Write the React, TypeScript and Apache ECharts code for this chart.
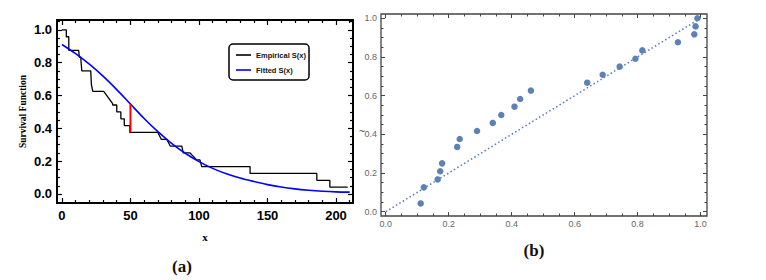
import React, { useEffect, useRef } from 'react';
import * as echarts from 'echarts';

// ---- Panel (a): empirical vs fitted survival function ----
const empX = [0, 3.2, 3.2, 5, 5, 12.2, 12.7, 13.7, 14.5, 21, 21.5, 22, 22.5, 30.5, 37, 37, 40, 40, 43, 43, 45.5, 45.5, 49.5, 49.5, 70, 72.5, 76.5, 79, 87.5, 88.5, 93.5, 98.3, 100.7, 102, 137.3, 137.3, 186, 186, 195.5, 195.5, 208.5];
const empY = [1, 1, 0.958, 0.958, 0.875, 0.875, 0.833, 0.833, 0.75, 0.75, 0.667, 0.667, 0.625, 0.625, 0.55, 0.542, 0.542, 0.5, 0.5, 0.458, 0.458, 0.417, 0.417, 0.375, 0.375, 0.333, 0.333, 0.292, 0.292, 0.25, 0.25, 0.208, 0.208, 0.167, 0.167, 0.125, 0.125, 0.083, 0.083, 0.042, 0.042];
const fitX = [0, 10, 20, 30, 40, 50, 60, 70, 80, 90, 100, 110, 120, 130, 140, 150, 160, 170, 180, 190, 200, 210];
const fitY = [0.911, 0.855, 0.791, 0.718, 0.636, 0.548, 0.46, 0.38, 0.309, 0.248, 0.197, 0.156, 0.123, 0.097, 0.076, 0.057, 0.042, 0.031, 0.023, 0.017, 0.013, 0.011];
const ksX = [50, 50];
const ksY = [0.375, 0.548];
const xTicksA = [0, 50, 100, 150, 200];
const yTicksA = [0, 0.2, 0.4, 0.6, 0.8, 1.0];

// ---- Panel (b): P-P plot ----
const qqX = [0.111, 0.121, 0.165, 0.173, 0.179, 0.227, 0.235, 0.29, 0.34, 0.367, 0.409, 0.427, 0.461, 0.64, 0.689, 0.743, 0.793, 0.815, 0.928, 0.98, 0.984, 0.99];
const qqY = [0.043, 0.126, 0.167, 0.209, 0.25, 0.335, 0.376, 0.417, 0.459, 0.5, 0.543, 0.583, 0.626, 0.667, 0.708, 0.75, 0.791, 0.834, 0.876, 0.917, 0.958, 1.0];
const refX = [0, 0.99];
const refY = [0, 0.99];
const ticksB = [0, 0.2, 0.4, 0.6, 0.8, 1.0];

function minorVals(min: number, max: number, step: number, major: number[]) {
  const out: number[] = [];
  for (let v = min; v <= max + 1e-9; v += step) {
    const r = Math.round(v * 1000) / 1000;
    if (!major.some((m) => Math.abs(m - r) < 1e-6)) out.push(r);
  }
  return out;
}

function axisSet(grid: number, min: number, max: number, major: number[], minor: number[], sideA: string, sideB: string, label: any, tickColor: string, majorLen: number, minorLen: number, lw: number, extra: any = {}) {
  const base = { type: 'value', gridIndex: grid, min, max, axisLine: { show: false, onZero: false }, splitLine: { show: false } };
  const mk = (pos: string, vals: number[], len: number, withLabel: boolean) => ({
    ...base,
    position: pos,
    axisTick: { show: true, inside: true, length: len, customValues: vals, lineStyle: { color: tickColor, width: lw } },
    axisLabel: withLabel ? { ...label, customValues: major } : { show: false },
    ...(withLabel ? extra : {}),
  });
  return [mk(sideA, major, majorLen, true), mk(sideB, major, majorLen, false), mk(sideA, minor, minorLen, false), mk(sideB, minor, minorLen, false)];
}

export default function App() {
  const ref = useRef<HTMLDivElement>(null);
  useEffect(() => {
    if (!ref.current) return;
    const chart = echarts.init(ref.current, null, { renderer: 'svg' });
    const labA = { show: true, fontFamily: 'Liberation Sans', fontWeight: 'bold', fontSize: 13, color: '#000' };
    const labB = { show: true, fontFamily: 'Liberation Sans', fontSize: 9, color: '#666' };
    const xA = axisSet(0, -3.6, 212.4, xTicksA, minorVals(0, 210, 10, xTicksA), 'bottom', 'top',
      { ...labA, margin: 6, formatter: (v: number) => String(v) }, '#000', 5, 3, 1.2,
      { name: 'x', nameLocation: 'middle', nameGap: 28, nameTextStyle: { fontFamily: 'Liberation Serif', fontWeight: 'bold', fontSize: 11, color: '#000' } });
    const yA = axisSet(0, -0.055, 1.06, yTicksA, minorVals(0, 1.05, 0.05, yTicksA), 'left', 'right',
      { ...labA, margin: 5, formatter: (v: number) => v.toFixed(1) }, '#000', 5, 3, 1.2,
      { name: 'Survival Function', nameLocation: 'middle', nameGap: 29, nameRotate: 90, nameTextStyle: { fontFamily: 'Liberation Serif', fontWeight: 'bold', fontSize: 9.5, color: '#000' } });
    const xB = axisSet(1, -0.015, 1.0204, ticksB, minorVals(0, 1, 0.05, ticksB), 'bottom', 'top',
      { ...labB, margin: 3, formatter: (v: number) => v.toFixed(1) }, '#444', 4, 2.5, 1);
    const yB = axisSet(1, -0.022, 1.022, ticksB, minorVals(0, 1, 0.05, ticksB), 'left', 'right',
      { ...labB, margin: 4, formatter: (v: number) => v.toFixed(1) }, '#444', 4, 2.5, 1);

    chart.setOption({
      animation: false,
      backgroundColor: '#fff',
      grid: [
        { left: 57, top: 20, width: 296, height: 183, show: true, borderColor: '#000', borderWidth: 2, backgroundColor: 'transparent' },
        { left: 381, top: 14, width: 326, height: 202, show: true, borderColor: '#444', borderWidth: 1.3, backgroundColor: 'transparent' },
      ],
      xAxis: [...xA, ...xB],
      yAxis: [...yA, ...yB],
      legend: {
        data: ['Empirical S(x)', 'Fitted S(x)'],
        orient: 'vertical',
        left: 229,
        top: 44,
        icon: 'rect',
        borderColor: '#000',
        borderWidth: 1.5,
        borderRadius: 4,
        padding: [6, 3, 5, 7],
        itemGap: 5,
        itemWidth: 15,
        itemHeight: 1.6,
        selectedMode: false,
        backgroundColor: '#fff',
        textStyle: { fontFamily: 'Liberation Sans', fontWeight: 'bold', fontSize: 7.5, color: '#111', lineHeight: 10, height: 10 },
      },
      graphic: [
        { type: 'text', x: 182, y: 266, style: { text: '(a)', font: 'bold 17px "Liberation Serif"', fill: '#111', align: 'center', verticalAlign: 'middle' } },
        { type: 'text', x: 534, y: 250, style: { text: '(b)', font: 'bold 17px "Liberation Serif"', fill: '#111', align: 'center', verticalAlign: 'middle' } },
        { type: 'text', x: 362, y: 131, style: { text: '~', font: '11px "Liberation Sans"', fill: '#444', align: 'center', verticalAlign: 'middle' } },
      ],
      series: [
        {
          name: 'Empirical S(x)', type: 'line', xAxisIndex: 0, yAxisIndex: 0, symbol: 'none',
          data: empX.map((x, i) => [x, empY[i]]),
          lineStyle: { color: '#000', width: 1.3 }, itemStyle: { color: '#000' }, z: 3,
        },
        {
          name: 'Fitted S(x)', type: 'line', xAxisIndex: 0, yAxisIndex: 0, symbol: 'none', smooth: 0.3,
          data: fitX.map((x, i) => [x, fitY[i]]),
          lineStyle: { color: '#0000ff', width: 1.6 }, itemStyle: { color: '#0000ff' }, z: 4,
        },
        {
          name: 'KS', type: 'line', xAxisIndex: 0, yAxisIndex: 0, symbol: 'none',
          data: ksX.map((x, i) => [x, ksY[i]]),
          lineStyle: { color: '#ff0000', width: 2 }, z: 5,
        },
        {
          name: 'ref', type: 'line', xAxisIndex: 4, yAxisIndex: 4, symbol: 'none',
          data: refX.map((x, i) => [x, refY[i]]),
          lineStyle: { color: '#5279bd', width: 1.5, type: [1.5, 2.5] }, z: 2,
        },
        {
          name: 'pp', type: 'scatter', xAxisIndex: 4, yAxisIndex: 4, symbolSize: 6.5,
          data: qqX.map((x, i) => [x, qqY[i]]),
          itemStyle: { color: '#5E81B5', opacity: 1 }, z: 3,
        },
      ],
    });
    return () => chart.dispose();
  }, []);
  return <div ref={ref} style={{ position: 'fixed', left: 0, top: 0, width: 766, height: 280, background: '#fff' }} />;
}
